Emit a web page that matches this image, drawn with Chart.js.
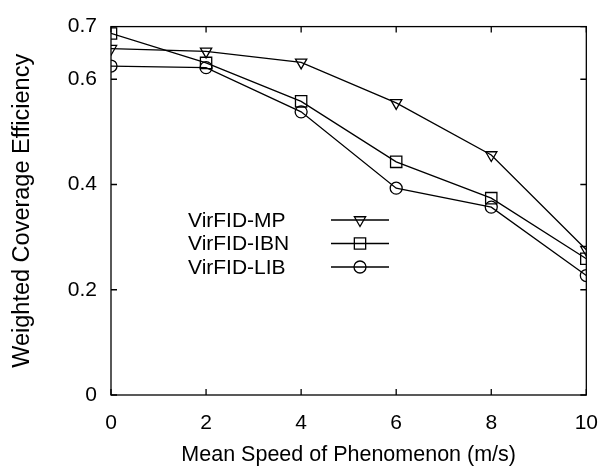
<!DOCTYPE html>
<html>
<head>
<meta charset="utf-8">
<script src="https://cdn.jsdelivr.net/npm/chart.js@4.4.1/dist/chart.umd.min.js"></script>
<style>
  html, body { margin: 0; padding: 0; background: #fff; }
  canvas { display: block; }
</style>
</head>
<body>
<canvas id="chart" width="614" height="468"></canvas>
<script>
const speeds = [0, 2, 4, 6, 8, 10];
const seriesNames = ["VirFID-MP", "VirFID-IBN", "VirFID-LIB"];
const mpValues = [0.658, 0.653, 0.632, 0.555, 0.456, 0.276];
const ibnValues = [0.687, 0.631, 0.558, 0.443, 0.374, 0.259];
const libValues = [0.625, 0.622, 0.538, 0.393, 0.357, 0.227];
const xTickValues = [0, 2, 4, 6, 8, 10];
const yTickValues = [0, 0.2, 0.4, 0.6, 0.7];

const FONT = "'Liberation Sans', Arial, Helvetica, sans-serif";

const markerStyles = [
  { pointStyle: "triangle", rotation: 180, radius: 6.5 },
  { pointStyle: "rect", rotation: 0, radius: 8 },
  { pointStyle: "circle", rotation: 0, radius: 6 },
];

const makeDataset = (label, values, m) => ({
  label: label,
  data: speeds.map((s, k) => ({ x: s, y: values[k] })),
  borderColor: "#000",
  backgroundColor: "rgba(0,0,0,0)",
  borderWidth: 1.3,
  pointStyle: m.pointStyle,
  rotation: m.rotation,
  pointRadius: m.radius,
  pointBorderWidth: 1.3,
  pointBorderColor: "#000",
  pointBackgroundColor: "rgba(0,0,0,0)",
  tension: 0,
});

// gnuplot-like frame, inward ticks and key
const framePlugin = {
  id: "frame",
  afterDraw(chart) {
    const { ctx, chartArea: a } = chart;
    const x = chart.scales.x;
    const y = chart.scales.y;
    ctx.save();
    ctx.strokeStyle = "#000";
    ctx.lineWidth = 1.3;
    ctx.strokeRect(a.left, a.top, a.right - a.left, a.bottom - a.top);
    ctx.beginPath();
    xTickValues.forEach((v) => {
      const px = x.getPixelForValue(v);
      ctx.moveTo(px, a.bottom);
      ctx.lineTo(px, a.bottom - 6);
      ctx.moveTo(px, a.top);
      ctx.lineTo(px, a.top + 6);
    });
    yTickValues.forEach((v) => {
      const py = y.getPixelForValue(v);
      ctx.moveTo(a.left, py);
      ctx.lineTo(a.left + 6, py);
      ctx.moveTo(a.right, py);
      ctx.lineTo(a.right - 6, py);
    });
    ctx.stroke();

    // key
    ctx.font = "21px " + FONT;
    ctx.textAlign = "left";
    ctx.textBaseline = "middle";
    chart.data.datasets.forEach((ds, k) => {
      const rowY = 220 + k * 23.5;
      ctx.fillStyle = "#000";
      ctx.fillText(ds.label, 188, rowY + 1);
      ctx.beginPath();
      ctx.moveTo(331, rowY);
      ctx.lineTo(389, rowY);
      ctx.stroke();
      ctx.fillStyle = "rgba(0,0,0,0)";
      Chart.helpers.drawPoint(ctx, {
        pointStyle: ds.pointStyle,
        rotation: ds.rotation,
        radius: ds.pointRadius,
        borderWidth: 1.3,
      }, 360, rowY);
    });
    ctx.restore();
  },
};

new Chart(document.getElementById("chart"), {
  type: "line",
  data: {
    datasets: seriesNames.map((name, k) =>
      makeDataset(name, [mpValues, ibnValues, libValues][k], markerStyles[k])
    ),
  },
  options: {
    responsive: false,
    animation: false,
    layout: { padding: { left: 0, top: 20, right: 17, bottom: 0 } },
    plugins: {
      legend: { display: false },
      tooltip: { enabled: false },
    },
    scales: {
      x: {
        type: "linear",
        min: 0,
        max: 10,
        grid: { display: false, drawTicks: false },
        border: { display: false },
        afterBuildTicks: (scale) => {
          scale.ticks = xTickValues.map((v) => ({ value: v }));
        },
        afterFit: (scale) => {
          scale.height = 73;
        },
        ticks: {
          color: "#000",
          font: { family: FONT, size: 21 },
          padding: 16,
          maxRotation: 0,
        },
        title: {
          display: true,
          text: "Mean Speed of Phenomenon (m/s)",
          color: "#000",
          font: { family: FONT, size: 21.5 },
          padding: { top: 0, bottom: 0 },
        },
      },
      y: {
        type: "linear",
        min: 0,
        max: 0.7,
        grid: { display: false, drawTicks: false },
        border: { display: false },
        afterBuildTicks: (scale) => {
          scale.ticks = yTickValues.map((v) => ({ value: v }));
        },
        afterFit: (scale) => {
          scale.width = 111;
        },
        ticks: {
          color: "#000",
          font: { family: FONT, size: 21 },
          padding: 14,
          callback: (v) => (v === 0 ? "0" : v.toFixed(1)),
        },
        title: {
          display: true,
          text: "Weighted Coverage Efficiency",
          color: "#000",
          font: { family: FONT, size: 23.5 },
          padding: { top: 8, bottom: 0 },
        },
      },
    },
  },
  plugins: [framePlugin],
});
</script>
</body>
</html>
